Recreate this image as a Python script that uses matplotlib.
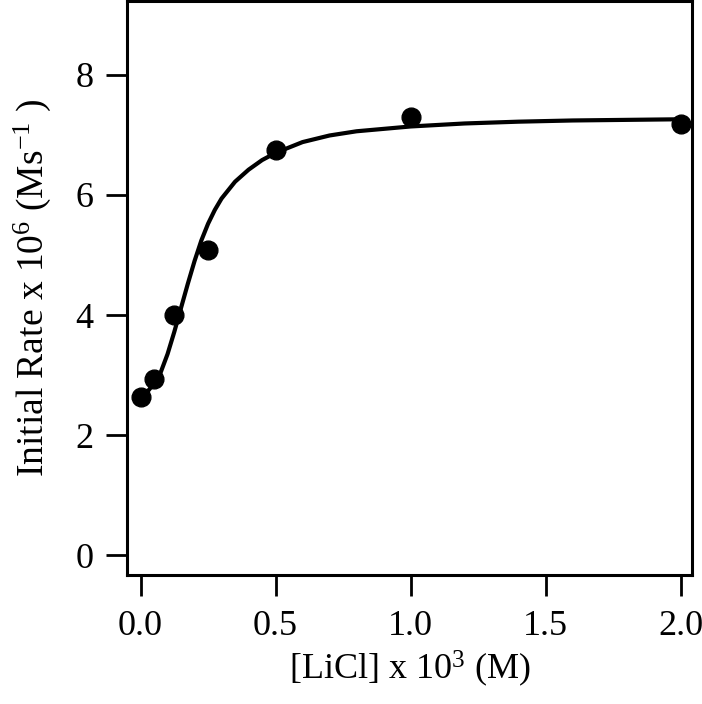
import numpy as np
import matplotlib
matplotlib.use("Agg")
import matplotlib.pyplot as plt

plt.rcParams["font.family"] = ["Liberation Serif", "DejaVu Serif"]
plt.rcParams["mathtext.fontset"] = "custom"
plt.rcParams["mathtext.rm"] = "Liberation Serif"
plt.rcParams["mathtext.it"] = "Liberation Serif:italic"

# measured rates
licl_conc = [0.0, 0.05, 0.125, 0.25, 0.5, 1.0, 2.0]
init_rate = [2.64, 2.93, 4.0, 5.08, 6.74, 7.30, 7.18]

# fitted curve
fit_x = [0.0, 0.025, 0.05, 0.075, 0.1, 0.125, 0.15, 0.175, 0.2, 0.225,
         0.25, 0.275, 0.3, 0.35, 0.4, 0.45, 0.5, 0.6, 0.7, 0.8, 0.9,
         1.0, 1.2, 1.4, 1.6, 1.8, 2.0]
fit_y = [2.60, 2.72, 2.86, 3.05, 3.35, 3.72, 4.12, 4.52, 4.90, 5.24,
         5.52, 5.75, 5.94, 6.22, 6.42, 6.58, 6.70, 6.88, 6.99, 7.06, 7.10,
         7.14, 7.19, 7.22, 7.24, 7.25, 7.26]

x_ticks = [0.0, 0.5, 1.0, 1.5, 2.0]
y_ticks = [0, 2, 4, 6, 8]

fig = plt.figure(figsize=(7.02, 7.04), dpi=100)
ax = fig.add_axes([0.181, 0.183, 0.805, 0.8156])

ax.plot(fit_x, fit_y, color="black", lw=3, solid_joinstyle="round",
        solid_capstyle="round", zorder=2)
ax.plot(licl_conc, init_rate, "o", color="black", ms=13.5, zorder=3)

ax.set_xlim(-0.05, 2.043)
ax.set_ylim(-0.333, 9.23)
ax.set_xticks(x_ticks)
ax.set_xticklabels([f"{v:.1f}" for v in x_ticks])
ax.set_yticks(y_ticks)

for s in ax.spines.values():
    s.set_linewidth(2.2)
ax.tick_params(axis="both", direction="out", length=15, width=2,
               labelsize=26, pad=9)
ax.tick_params(axis="x", pad=10)

ax.set_xlabel(r"[LiCl] x 10$^3$ (M)", fontsize=26, labelpad=4)
ax.set_ylabel(r"Initial Rate x 10$^6$ (Ms$^{-1}$ )", fontsize=27,
              labelpad=16)

fig.savefig("out.png", dpi=100)
